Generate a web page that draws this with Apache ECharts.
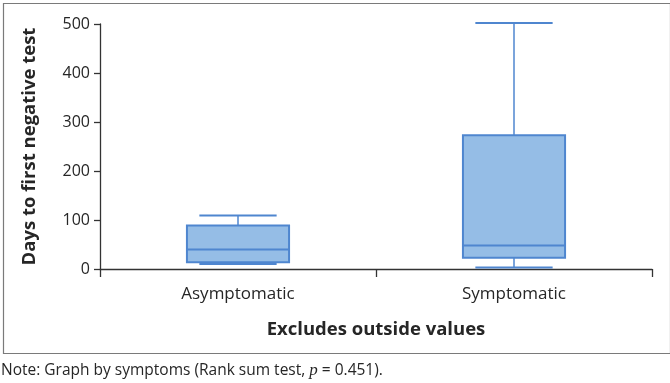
<!DOCTYPE html>
<html><head><meta charset="utf-8">
<script src="https://cdn.jsdelivr.net/npm/echarts@6/dist/echarts.min.js"></script>
<style>html,body{margin:0;padding:0;background:#fff}#c{width:670px;height:383px}</style>
</head><body><div id="c"></div>
<script>
const categories = ['Asymptomatic', 'Symptomatic'];
// [min, Q1, median, Q3, max]
const asymptomatic = [10, 14, 40, 89, 109];
const symptomatic = [3, 23, 48, 273, 502];
const yTicks = [0, 100, 200, 300, 400, 500];
const yAxisTitle = 'Days to first negative test';
const xAxisTitle = 'Excludes outside values';
const noteText = 'Note: Graph by symptoms (Rank sum test, {i|p} = 0.451).';

const seriesData = [[0].concat(asymptomatic), [1].concat(symptomatic)];
const FONT = '"Open Sans", "Noto Sans", sans-serif';
const chart = echarts.init(document.getElementById('c'), null, {renderer: 'canvas'});
chart.setOption({
  animation: false,
  grid: {left: 100, right: 18, top: 24, bottom: 114},
  xAxis: {
    type: 'category', data: categories, boundaryGap: true,
    axisLine: {lineStyle: {color: '#333', width: 1.3}},
    axisTick: {show: true, length: 8, inside: false, alignWithLabel: false, lineStyle: {color: '#333', width: 1.3}},
    axisLabel: {color: '#262626', fontSize: 17, fontFamily: FONT, margin: 17},
    name: xAxisTitle, nameLocation: 'middle', nameGap: 51,
    nameTextStyle: {color: '#262626', fontSize: 18.5, fontWeight: 'bold', fontFamily: FONT}
  },
  yAxis: {
    type: 'value', min: yTicks[0], max: yTicks[yTicks.length - 1], interval: 100,
    splitLine: {show: false},
    axisLine: {show: true, lineStyle: {color: '#333', width: 1.3}},
    axisTick: {show: true, length: 6, lineStyle: {color: '#333', width: 1.3}},
    axisLabel: {color: '#262626', fontSize: 16, fontFamily: FONT, margin: 10},
    name: yAxisTitle, nameLocation: 'middle', nameGap: 61, nameRotate: 90,
    nameTextStyle: {color: '#262626', fontSize: 18.5, fontWeight: 'bold', fontFamily: FONT}
  },
  series: [{
    type: 'custom',
    data: seriesData,
    encode: {x: 0, y: [1, 2, 3, 4, 5]},
    renderItem: function (params, api) {
      const xi = api.value(0);
      const band = api.size([1, 0])[0];
      const bw = band * 0.37, cw = band * 0.14;
      const p = [1, 2, 3, 4, 5].map(i => api.coord([xi, api.value(i)]));
      const cx = p[0][0];
      const stroke = '#4f86cf';
      const ls = {stroke: stroke, lineWidth: 1.5, fill: null};
      return {type: 'group', children: [
        {type: 'line', shape: {x1: cx, y1: p[4][1], x2: cx, y2: p[3][1]}, style: ls},
        {type: 'line', shape: {x1: cx, y1: p[1][1], x2: cx, y2: p[0][1]}, style: ls},
        {type: 'line', shape: {x1: cx - cw, y1: p[4][1], x2: cx + cw, y2: p[4][1]}, style: {stroke: stroke, lineWidth: 2}},
        {type: 'line', shape: {x1: cx - cw, y1: p[0][1], x2: cx + cw, y2: p[0][1]}, style: {stroke: stroke, lineWidth: 2}},
        {type: 'rect', shape: {x: cx - bw / 2, y: p[3][1], width: bw, height: p[1][1] - p[3][1]},
          style: {fill: '#95bde6', stroke: stroke, lineWidth: 2}},
        {type: 'line', shape: {x1: cx - bw / 2, y1: p[2][1], x2: cx + bw / 2, y2: p[2][1]}, style: {stroke: stroke, lineWidth: 2}}
      ]};
    }
  }],
  graphic: [
    {type: 'rect', left: 1, top: 1, shape: {width: 667, height: 350}, style: {fill: null, stroke: '#7a7a7a', lineWidth: 1.2}, z: -1},
    {type: 'text', left: 1, top: 362, style: {text: noteText, fill: '#262626', font: '15.5px ' + FONT,
      rich: {i: {fontStyle: 'italic', fontFamily: 'Liberation Serif, serif', fontSize: 17, fill: '#262626'}}}}
  ]
});
</script></body></html>
